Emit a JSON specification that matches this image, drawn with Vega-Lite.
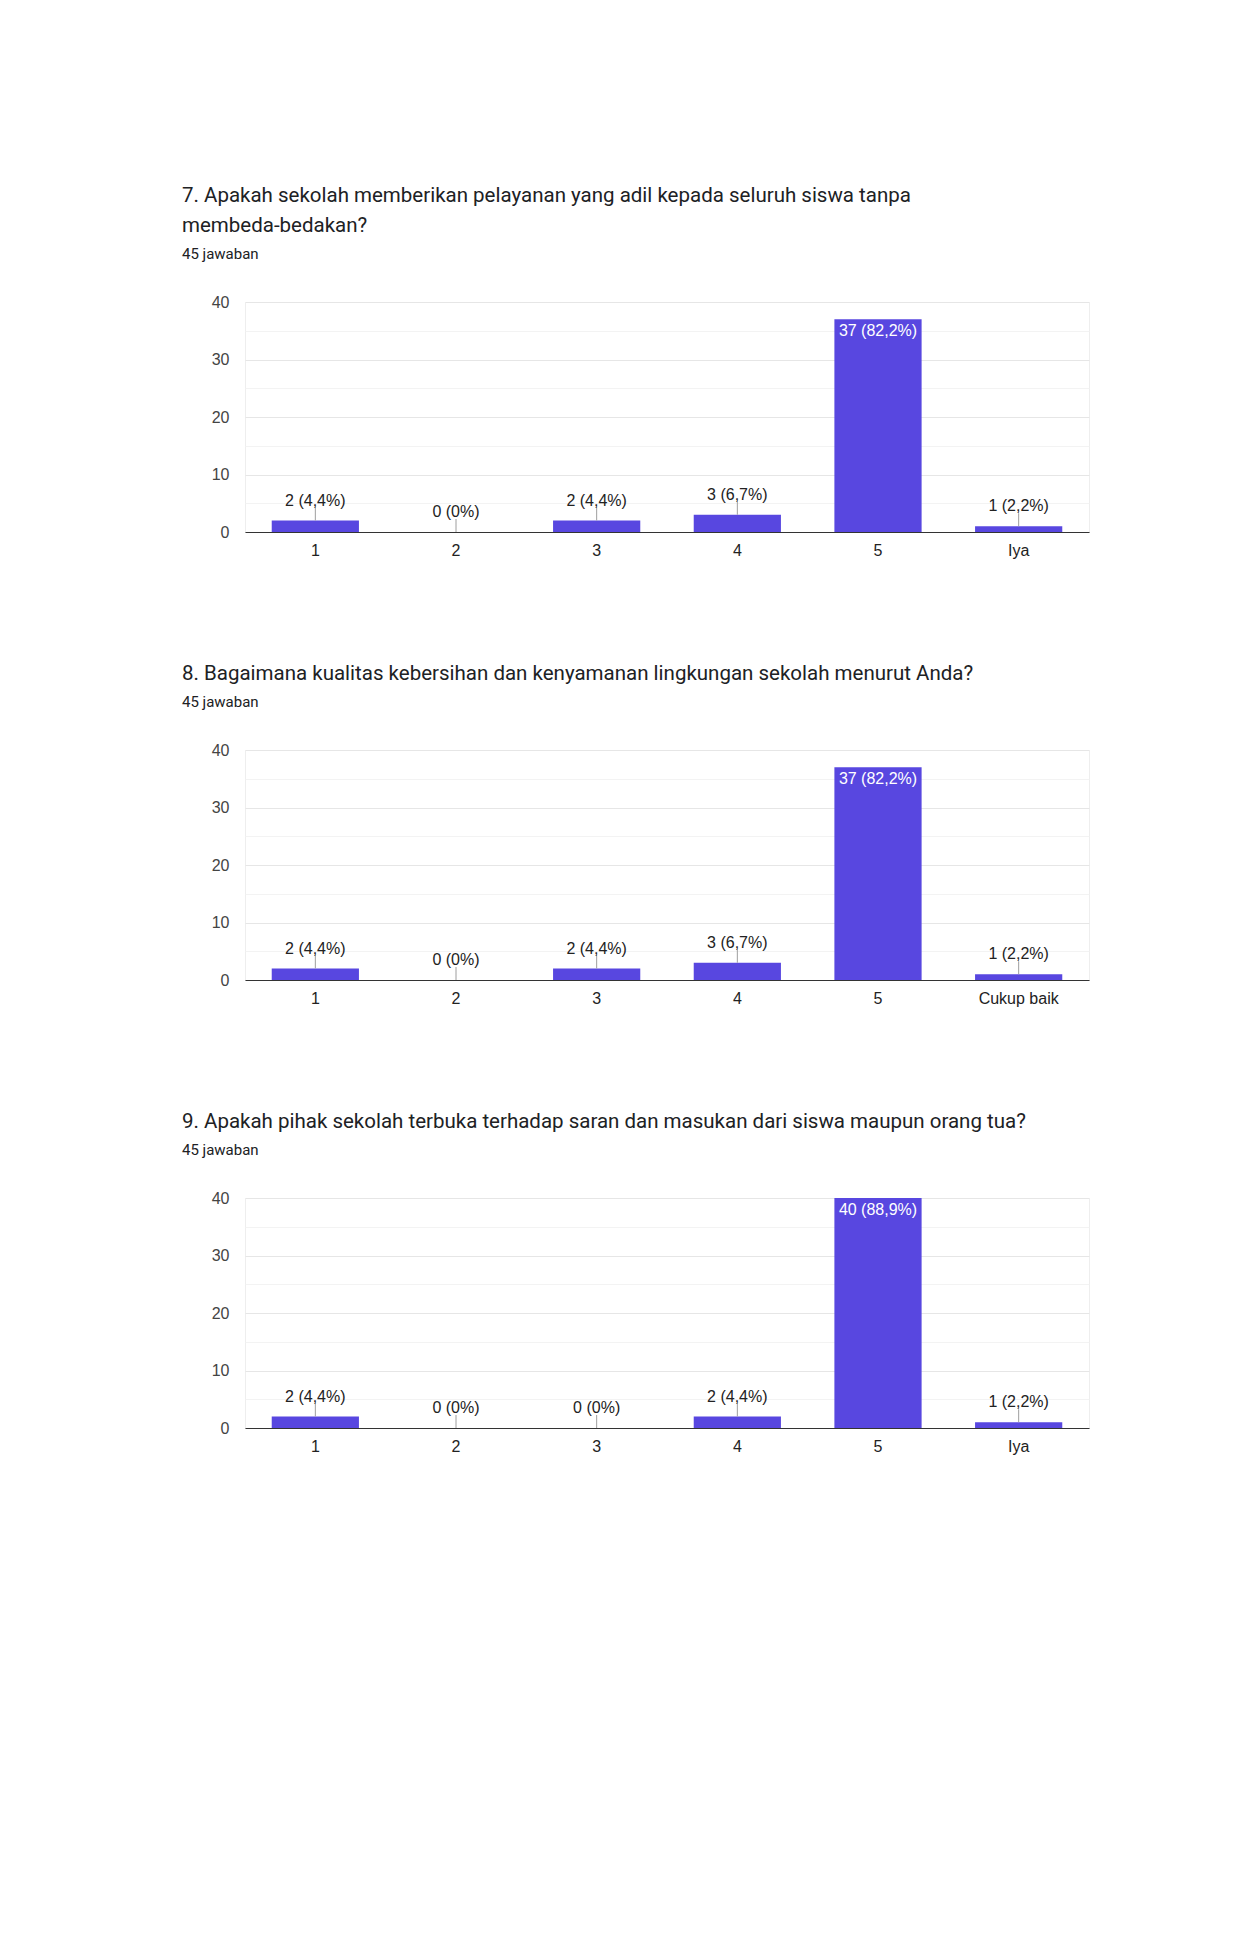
{
  "$schema": "https://vega.github.io/schema/vega-lite/v6.json",
  "background": "white",
  "padding": {"left": 181, "top": 185, "right": 10, "bottom": 10},
  "spacing": 104,
  "config": {
    "view": {"stroke": "#eeeeee", "strokeWidth": 1},
    "axis": {"labelFont": "Liberation Sans", "labelFontSize": 16, "ticks": false, "title": null},
    "axisY": {"domain": false, "labelColor": "#444444", "labelPadding": 16},
    "axisX": {"domainColor": "#333333", "domainWidth": 1.2, "labelColor": "#222222", "labelPadding": 10, "labelAngle": 0, "grid": false},
    "title": {
      "font": "Roboto", "fontSize": 20.5, "fontWeight": "normal", "color": "#202124",
      "anchor": "start", "frame": "group", "dx": -63, "lineHeight": 30,
      "subtitleFont": "Roboto", "subtitleFontSize": 15, "subtitleColor": "#202124",
      "subtitlePadding": 10.5, "offset": 32.5
    },
    "text": {"font": "Liberation Sans", "fontSize": 16}
  },
  "datasets": {
    "d": [
      {"q": 7, "cat": "1", "count": 2, "label": "2 (4,4%)"},
      {"q": 7, "cat": "2", "count": 0, "label": "0 (0%)"},
      {"q": 7, "cat": "3", "count": 2, "label": "2 (4,4%)"},
      {"q": 7, "cat": "4", "count": 3, "label": "3 (6,7%)"},
      {"q": 7, "cat": "5", "count": 37, "label": "37 (82,2%)"},
      {"q": 7, "cat": "Iya", "count": 1, "label": "1 (2,2%)"},
      {"q": 8, "cat": "1", "count": 2, "label": "2 (4,4%)"},
      {"q": 8, "cat": "2", "count": 0, "label": "0 (0%)"},
      {"q": 8, "cat": "3", "count": 2, "label": "2 (4,4%)"},
      {"q": 8, "cat": "4", "count": 3, "label": "3 (6,7%)"},
      {"q": 8, "cat": "5", "count": 37, "label": "37 (82,2%)"},
      {"q": 8, "cat": "Cukup baik", "count": 1, "label": "1 (2,2%)"},
      {"q": 9, "cat": "1", "count": 2, "label": "2 (4,4%)"},
      {"q": 9, "cat": "2", "count": 0, "label": "0 (0%)"},
      {"q": 9, "cat": "3", "count": 0, "label": "0 (0%)"},
      {"q": 9, "cat": "4", "count": 2, "label": "2 (4,4%)"},
      {"q": 9, "cat": "5", "count": 40, "label": "40 (88,9%)"},
      {"q": 9, "cat": "Iya", "count": 1, "label": "1 (2,2%)"}
    ]
  },
  "vconcat": [
    {
      "width": 844, "height": 230,
      "title": {"text": ["7. Apakah sekolah memberikan pelayanan yang adil kepada seluruh siswa tanpa", "membeda-bedakan?"], "subtitle": "45 jawaban"},
      "data": {"name": "d"},
      "transform": [{"filter": "datum.q === 7"}],
      "encoding": {
        "x": {"field": "cat", "type": "nominal", "sort": null, "scale": {"paddingInner": 0.38, "paddingOuter": 0.19}},
        "y": {"field": "count", "type": "quantitative", "scale": {"domain": [0, 40]},
          "axis": {"values": [0, 5, 10, 15, 20, 25, 30, 35, 40], "labelExpr": "datum.value % 10 === 0 ? datum.label : ''",
            "gridColor": {"condition": {"test": "datum.value % 10 === 0", "value": "#e6e6e6"}, "value": "#f3f3f3"}}}
      },
      "layer": [
        {"mark": {"type": "bar", "color": "#5847e0"}},
        {"transform": [{"filter": "datum.count < 20"}], "mark": {"type": "rule", "color": "#9e9e9e", "y2Offset": -13}, "encoding": {"y2": {"field": "count"}}},
        {"transform": [{"filter": "datum.count < 20"}], "mark": {"type": "text", "baseline": "middle", "dy": -20, "color": "#222222"}, "encoding": {"text": {"field": "label"}}},
        {"transform": [{"filter": "datum.count >= 20"}], "mark": {"type": "text", "baseline": "middle", "dy": 12, "color": "#ffffff"}, "encoding": {"text": {"field": "label"}}}
      ]
    },
    {
      "width": 844, "height": 230,
      "title": {"text": "8. Bagaimana kualitas kebersihan dan kenyamanan lingkungan sekolah menurut Anda?", "subtitle": "45 jawaban"},
      "data": {"name": "d"},
      "transform": [{"filter": "datum.q === 8"}],
      "encoding": {
        "x": {"field": "cat", "type": "nominal", "sort": null, "scale": {"paddingInner": 0.38, "paddingOuter": 0.19}},
        "y": {"field": "count", "type": "quantitative", "scale": {"domain": [0, 40]},
          "axis": {"values": [0, 5, 10, 15, 20, 25, 30, 35, 40], "labelExpr": "datum.value % 10 === 0 ? datum.label : ''",
            "gridColor": {"condition": {"test": "datum.value % 10 === 0", "value": "#e6e6e6"}, "value": "#f3f3f3"}}}
      },
      "layer": [
        {"mark": {"type": "bar", "color": "#5847e0"}},
        {"transform": [{"filter": "datum.count < 20"}], "mark": {"type": "rule", "color": "#9e9e9e", "y2Offset": -13}, "encoding": {"y2": {"field": "count"}}},
        {"transform": [{"filter": "datum.count < 20"}], "mark": {"type": "text", "baseline": "middle", "dy": -20, "color": "#222222"}, "encoding": {"text": {"field": "label"}}},
        {"transform": [{"filter": "datum.count >= 20"}], "mark": {"type": "text", "baseline": "middle", "dy": 12, "color": "#ffffff"}, "encoding": {"text": {"field": "label"}}}
      ]
    },
    {
      "width": 844, "height": 230,
      "title": {"text": "9. Apakah pihak sekolah terbuka terhadap saran dan masukan dari siswa maupun orang tua?", "subtitle": "45 jawaban"},
      "data": {"name": "d"},
      "transform": [{"filter": "datum.q === 9"}],
      "encoding": {
        "x": {"field": "cat", "type": "nominal", "sort": null, "scale": {"paddingInner": 0.38, "paddingOuter": 0.19}},
        "y": {"field": "count", "type": "quantitative", "scale": {"domain": [0, 40]},
          "axis": {"values": [0, 5, 10, 15, 20, 25, 30, 35, 40], "labelExpr": "datum.value % 10 === 0 ? datum.label : ''",
            "gridColor": {"condition": {"test": "datum.value % 10 === 0", "value": "#e6e6e6"}, "value": "#f3f3f3"}}}
      },
      "layer": [
        {"mark": {"type": "bar", "color": "#5847e0"}},
        {"transform": [{"filter": "datum.count < 20"}], "mark": {"type": "rule", "color": "#9e9e9e", "y2Offset": -13}, "encoding": {"y2": {"field": "count"}}},
        {"transform": [{"filter": "datum.count < 20"}], "mark": {"type": "text", "baseline": "middle", "dy": -20, "color": "#222222"}, "encoding": {"text": {"field": "label"}}},
        {"transform": [{"filter": "datum.count >= 20"}], "mark": {"type": "text", "baseline": "middle", "dy": 12, "color": "#ffffff"}, "encoding": {"text": {"field": "label"}}}
      ]
    }
  ]
}
